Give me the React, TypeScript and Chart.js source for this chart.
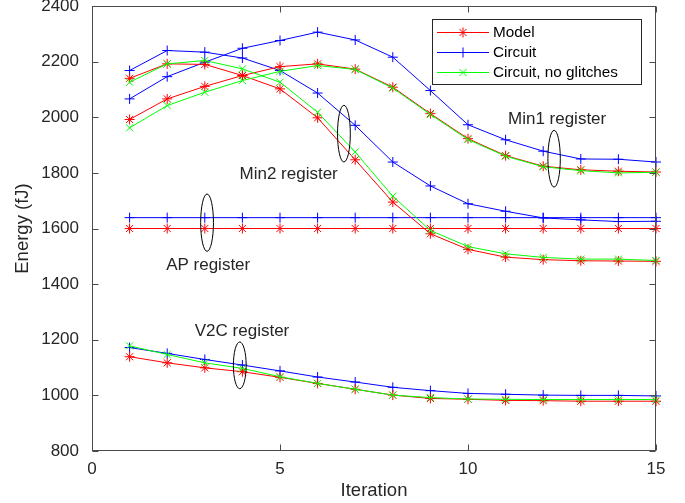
import React, { useEffect, useRef } from "react";
import { Chart, registerables } from "chart.js";

Chart.register(...registerables);

const iterations = [1, 2, 3, 4, 5, 6, 7, 8, 9, 10, 11, 12, 13, 14, 15];

const min1Model = [1992, 2066, 2111, 2150, 2182, 2192, 2173, 2108, 2013, 1923, 1862, 1824, 1811, 1806, 1803];
const min1Circuit = [2066, 2146, 2198, 2248, 2276, 2306, 2278, 2216, 2096, 1973, 1919, 1878, 1850, 1849, 1839];
const min1NoGlitch = [1962, 2042, 2090, 2132, 2165, 2186, 2172, 2105, 2010, 1920, 1860, 1822, 1808, 1800, 1802];

const min2Model = [2140, 2192, 2190, 2150, 2102, 1998, 1847, 1695, 1581, 1525, 1497, 1488, 1484, 1483, 1482];
const min2Circuit = [2168, 2240, 2234, 2213, 2168, 2087, 1971, 1839, 1753, 1689, 1662, 1638, 1631, 1625, 1626];
const min2NoGlitch = [2126, 2192, 2204, 2174, 2126, 2018, 1875, 1716, 1593, 1535, 1509, 1496, 1490, 1490, 1485];

const apModel = [1600, 1600, 1600, 1600, 1600, 1600, 1600, 1600, 1600, 1600, 1600, 1600, 1600, 1600, 1600];
const apCircuit = [1639, 1639, 1639, 1639, 1639, 1639, 1639, 1639, 1639, 1639, 1639, 1639, 1639, 1639, 1639];

const v2cModel = [1139, 1117, 1099, 1085, 1065, 1043, 1022, 1001, 989, 986, 982, 981, 979, 979, 979];
const v2cCircuit = [1172, 1151, 1129, 1109, 1088, 1066, 1048, 1029, 1017, 1007, 1004, 1001, 1000, 1000, 998];
const v2cNoGlitch = [1178, 1147, 1117, 1097, 1067, 1043, 1022, 1001, 992, 987, 986, 985, 985, 985, 985];

const legendLabels = ["Model", "Circuit", "Circuit, no glitches"];
const xTitle = "Iteration";
const yTitle = "Energy (fJ)";

// annotations in data coordinates
const regionLabels = [
  { text: "Min1 register", x: 12.37, y: 1991 },
  { text: "Min2 register", x: 5.23, y: 1794 },
  { text: "AP register", x: 3.09, y: 1467 },
  { text: "V2C register", x: 3.99, y: 1232 },
];
const regionEllipses = [
  { x: 12.29, y: 1851, w: 0.33, h: 204 },
  { x: 6.70, y: 1941, w: 0.34, h: 204 },
  { x: 3.06, y: 1621, w: 0.34, h: 206 },
  { x: 3.93, y: 1108, w: 0.34, h: 168 },
];

const RED = "#ff0000";
const BLUE = "#0000ff";
const GREEN = "#00ff00";
const AXIS = "#4a4a4a";
const TEXT = "#262626";
const FONT = "Liberation Sans";

const toPts = (vals: number[]) => vals.map((v, i) => ({ x: iterations[i], y: v }));

const mk = (vals: number[], color: string, style: string) => ({
  data: toPts(vals),
  borderColor: color,
  backgroundColor: color,
  borderWidth: 1,
  pointStyle: style,
  pointRadius: 5,
  pointBorderWidth: 1,
  pointBorderColor: color,
  pointHoverRadius: 5,
  fill: false,
  tension: 0,
  clip: false,
});

const decorPlugin = {
  id: "decor",
  afterDatasetsDraw(chart: any) {
    const { ctx, chartArea, scales } = chart;
    const xs = scales.x;
    const ys = scales.y;
    const { left, right, top, bottom } = chartArea;
    ctx.save();

    // ellipses
    ctx.strokeStyle = "#000000";
    ctx.lineWidth = 1;
    regionEllipses.forEach((e) => {
      const cx = xs.getPixelForValue(e.x);
      const cy = ys.getPixelForValue(e.y);
      const rx = Math.abs(xs.getPixelForValue(e.x + e.w / 2) - cx);
      const ry = Math.abs(ys.getPixelForValue(e.y + e.h / 2) - cy);
      ctx.beginPath();
      ctx.ellipse(cx, cy, rx, ry, 0, 0, Math.PI * 2);
      ctx.stroke();
    });

    // region labels
    ctx.fillStyle = TEXT;
    ctx.font = `17px "${FONT}"`;
    ctx.textAlign = "center";
    ctx.textBaseline = "middle";
    regionLabels.forEach((l) => {
      ctx.fillText(l.text, xs.getPixelForValue(l.x), ys.getPixelForValue(l.y));
    });

    // frame
    ctx.strokeStyle = AXIS;
    ctx.lineWidth = 1;
    const L = Math.round(left) + 0.5;
    const R = Math.round(right) - 0.5;
    const T = Math.round(top) + 0.5;
    const B = Math.round(bottom) - 0.5;
    ctx.strokeRect(L, T, R - L, B - T);

    // inward tick marks
    const tl = 6;
    ys.ticks.forEach((t: any) => {
      const y = Math.round(ys.getPixelForValue(t.value)) + 0.5;
      ctx.beginPath();
      ctx.moveTo(L, y);
      ctx.lineTo(L + tl, y);
      ctx.moveTo(R, y);
      ctx.lineTo(R - tl, y);
      ctx.stroke();
    });
    xs.ticks.forEach((t: any) => {
      const x = Math.round(xs.getPixelForValue(t.value)) + 0.5;
      ctx.beginPath();
      ctx.moveTo(x, B);
      ctx.lineTo(x, B - tl);
      ctx.moveTo(x, T);
      ctx.lineTo(x, T + tl);
      ctx.stroke();
    });

    // axis titles
    ctx.fillStyle = TEXT;
    ctx.font = `18.5px "${FONT}"`;
    ctx.textAlign = "center";
    ctx.textBaseline = "middle";
    ctx.fillText(xTitle, (left + right) / 2, 491);
    ctx.save();
    ctx.translate(23, (top + bottom) / 2);
    ctx.rotate(-Math.PI / 2);
    ctx.fillText(yTitle, 0, 0);
    ctx.restore();

    // legend
    const bx = 432.5, by = 19.5, bw = 209, bh = 65;
    ctx.fillStyle = "#ffffff";
    ctx.fillRect(bx, by, bw, bh);
    ctx.strokeStyle = TEXT;
    ctx.strokeRect(bx, by, bw, bh);
    const colors = [RED, BLUE, GREEN];
    const rows = [32.5, 52.5, 72.5];
    ctx.font = `15.3px "${FONT}"`;
    ctx.textAlign = "left";
    legendLabels.forEach((lab, i) => {
      const y = rows[i];
      ctx.strokeStyle = colors[i];
      ctx.lineWidth = 1;
      ctx.beginPath();
      ctx.moveTo(437, y);
      ctx.lineTo(489, y);
      ctx.stroke();
      const cx = 463, r = 5;
      ctx.beginPath();
      if (i === 0 || i === 1) {
        ctx.moveTo(cx - r, y);
        ctx.lineTo(cx + r, y);
        ctx.moveTo(cx, y - r);
        ctx.lineTo(cx, y + r);
      }
      if (i === 0 || i === 2) {
        const d = r * Math.SQRT1_2;
        ctx.moveTo(cx - d, y - d);
        ctx.lineTo(cx + d, y + d);
        ctx.moveTo(cx - d, y + d);
        ctx.lineTo(cx + d, y - d);
      }
      ctx.stroke();
      ctx.fillStyle = "#000000";
      ctx.fillText(lab, 493, y + 0.5);
    });

    ctx.restore();
  },
};

export default function App() {
  const ref = useRef<HTMLCanvasElement | null>(null);
  useEffect(() => {
    if (!ref.current) return;
    const chart = new Chart(ref.current, {
      type: "line",
      data: {
        datasets: [
          mk(min1NoGlitch, GREEN, "crossRot"),
          mk(min2NoGlitch, GREEN, "crossRot"),
          mk(v2cNoGlitch, GREEN, "crossRot"),
          mk(min1Model, RED, "star"),
          mk(min2Model, RED, "star"),
          mk(apModel, RED, "star"),
          mk(v2cModel, RED, "star"),
          mk(min1Circuit, BLUE, "cross"),
          mk(min2Circuit, BLUE, "cross"),
          mk(apCircuit, BLUE, "cross"),
          mk(v2cCircuit, BLUE, "cross"),
        ] as any,
      },
      options: {
        responsive: false,
        animation: false,
        devicePixelRatio: 1,
        layout: { padding: { top: 5, right: 29, left: 0, bottom: 0 } },
        plugins: {
          legend: { display: false },
          tooltip: { enabled: false },
          title: { display: false },
        },
        scales: {
          x: {
            type: "linear",
            min: 0,
            max: 15,
            grid: { display: false, drawTicks: false },
            border: { display: false },
            ticks: {
              stepSize: 5,
              padding: 8,
              color: TEXT,
              font: { family: FONT, size: 17 },
              callback: (v: any) => String(v),
            },
            afterFit: (s: any) => {
              s.height = 52;
              s.paddingLeft = 0;
              s.paddingRight = 0;
            },
          },
          y: {
            type: "linear",
            min: 800,
            max: 2400,
            grid: { display: false, drawTicks: false },
            border: { display: false },
            ticks: {
              stepSize: 200,
              padding: 13,
              color: TEXT,
              font: { family: FONT, size: 17 },
              callback: (v: any) => String(v),
            },
            afterFit: (s: any) => {
              s.width = 92;
              s.paddingTop = 0;
              s.paddingBottom = 0;
            },
          },
        },
      } as any,
      plugins: [decorPlugin],
    });
    return () => chart.destroy();
  }, []);
  return (
    <div style={{ position: "absolute", left: 0, top: 0, width: 685, height: 503, background: "#ffffff" }}>
      <canvas ref={ref} width={685} height={503} style={{ display: "block" }} />
    </div>
  );
}
